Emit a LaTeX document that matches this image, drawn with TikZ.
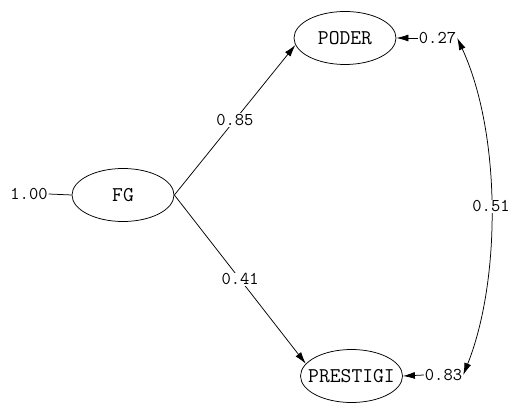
\documentclass[tikz,border=0pt]{standalone}
\usetikzlibrary{shapes.geometric,arrows.meta}
\newcommand{\fixw}[1]{\makebox[0pt]{#1}}
\tikzset{
  latent/.style={draw, ellipse, line width=0.75pt, minimum width=102pt, minimum height=53pt, inner sep=0pt, font=\ttfamily\fontsize{21}{21}\selectfont},
  num/.style={inner sep=1pt, font=\ttfamily\fontsize{18}{18}\selectfont},
  lbl/.style={fill=white, inner sep=1pt, font=\ttfamily\fontsize{18}{18}\selectfont},
  conn/.style={line width=0.75pt},
  arr/.style={conn, -{Latex[length=12pt,width=7pt]}},
  darr/.style={conn, {Latex[length=12pt,width=7pt]}-{Latex[length=12pt,width=7pt]}}
}
\begin{document}
\begin{tikzpicture}[x=1pt,y=-1pt]
\useasboundingbox (0,0) rectangle (510,403);
\node[latent] (FG) at (123,195) {\fixw{FG}};
\node[latent] (PODER) at (345,38) {\fixw{PODER}};
\node[latent] (PRES) at (351.5,376) {\fixw{PRESTIGI}};
\node[num] (e100) at (29,194) {1.00};
\node[num] (e27) at (437.5,38) {0.27};
\node[num] (e83) at (443.5,375) {0.83};
\draw[conn] (e100.east) -- (FG.west);
\draw[arr] (e27.west) -- (PODER.east);
\draw[arr] (e83.west) -- (PRES.east);
\draw[arr] (FG.east) -- node[lbl] {0.85} (PODER.188);
\draw[arr] (FG.east) -- node[lbl] {0.41} (PRES.165);
\draw[darr] (e27.east) .. controls +(44,95) and +(38,-95) .. node[lbl, pos=0.5] {0.51} (e83.east);
\end{tikzpicture}
\end{document}
